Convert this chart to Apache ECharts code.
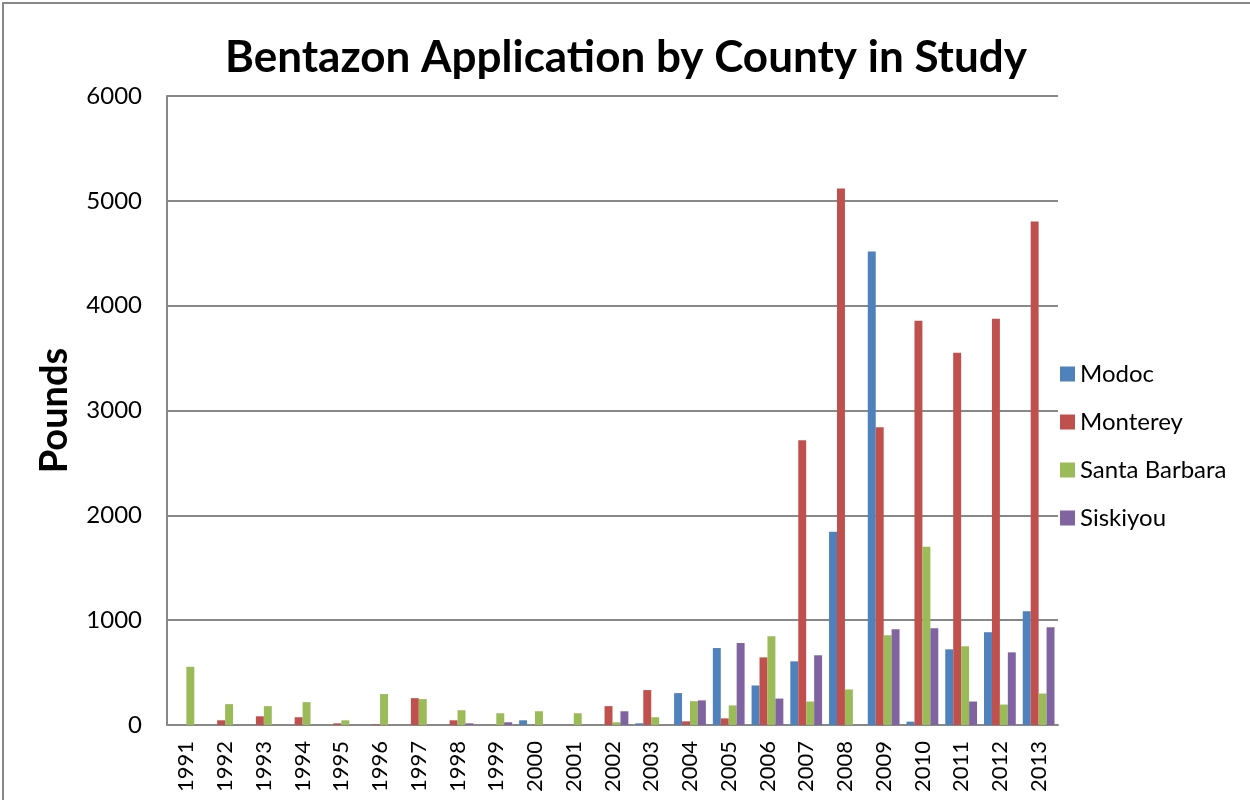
<!DOCTYPE html>
<html>
<head>
<meta charset="utf-8">
<script src="https://cdn.jsdelivr.net/npm/echarts@6/dist/echarts.min.js"></script>
<style>
html,body{margin:0;padding:0;background:#fff;}
#chart{width:1250px;height:800px;}
</style>
</head>
<body>
<div id="chart"></div>
<script>
var years = ['1991','1992','1993','1994','1995','1996','1997','1998','1999','2000','2001','2002','2003','2004','2005','2006','2007','2008','2009','2010','2011','2012','2013'];
var modoc =        [0,0,0,0,0,0,0,0,0,45,0,0,16,304,734,377,607,1843,4516,32,722,885,1086];
var monterey =     [0,45,83,74,16,6,256,45,0,0,0,180,333,35,63,645,2716,5118,2840,3857,3551,3876,4803];
var santaBarbara = [555,199,180,218,45,295,247,141,112,131,112,26,74,227,187,847,224,339,856,1700,751,195,300];
var siskiyou =     [0,0,0,0,0,0,0,16,26,0,0,131,0,235,782,252,665,0,914,923,224,693,933];
var yTicks = [0,1000,2000,3000,4000,5000,6000];

var FONT = 'Lato, "Liberation Sans", sans-serif';
var colors = ['#4F81BD','#C0504D','#9BBB59','#8064A2'];
var names = ['Modoc','Monterey','Santa Barbara','Siskiyou'];
var datas = [modoc, monterey, santaBarbara, siskiyou];

var chart = echarts.init(document.getElementById('chart'));
chart.setOption({
  animation: false,
  backgroundColor: '#fff',
  color: colors,
  title: {
    text: 'Bentazon Application by County in Study',
    left: 621, top: 31, textAlign: 'center',
    textStyle: {fontFamily: FONT, fontSize: 44, fontWeight: 'bold', color: '#000'}
  },
  legend: {
    orient: 'vertical', left: 1055, top: 357,
    itemWidth: 15, itemHeight: 15, itemGap: 24,
    icon: 'rect',
    textStyle: {fontFamily: FONT, fontSize: 24, color: '#000'},
    data: names
  },
  grid: {left: 167, right: 192, top: 96, bottom: 75},
  xAxis: {
    type: 'category', data: years,
    axisLine: {lineStyle: {color: '#888', width: 2}},
    axisTick: {show: false},
    axisLabel: {rotate: 90, fontFamily: FONT, fontSize: 22, color: '#000', margin: 16, interval: 0}
  },
  yAxis: {
    type: 'value', min: 0, max: 6000, interval: 1000,
    name: 'Pounds', nameLocation: 'middle', nameGap: 93,
    nameTextStyle: {fontFamily: FONT, fontSize: 38, fontWeight: 'bold', color: '#000'},
    axisLine: {show: true, lineStyle: {color: '#888', width: 2}},
    axisTick: {show: false},
    axisLabel: {fontFamily: FONT, fontSize: 24, color: '#000', margin: 25,
      formatter: function(v){ return yTicks.indexOf(v) >= 0 ? String(v) : ''; }},
    splitLine: {lineStyle: {color: '#888', width: 2}}
  },
  graphic: [{
    type: 'polyline', silent: true,
    shape: {points: [[3, 800], [3, 3], [1250, 3]]},
    style: {stroke: '#888', lineWidth: 2, fill: null}
  }],
  series: names.map(function(n, i){
    return {
      name: n, type: 'bar', data: datas[i],
      barGap: '0%', barCategoryGap: '18%',
      itemStyle: {color: colors[i]}
    };
  })
});
</script>
</body>
</html>
